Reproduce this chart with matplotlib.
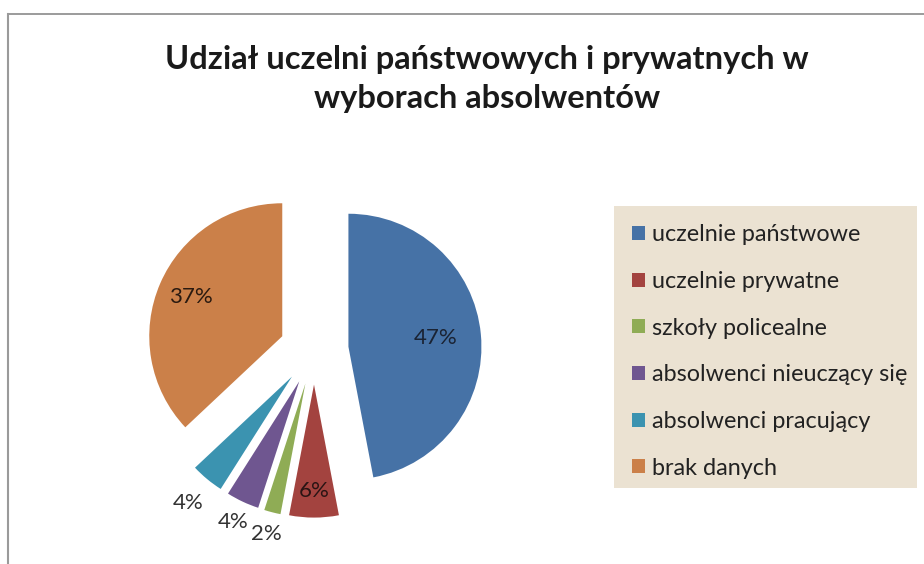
import numpy as np
import matplotlib
matplotlib.use('Agg')
from matplotlib import pyplot as plt
from matplotlib.patches import Rectangle
from matplotlib.lines import Line2D

title = 'Udział uczelni państwowych i prywatnych w\nwyborach absolwentów'
categories = ['uczelnie państwowe', 'uczelnie prywatne', 'szkoły policealne',
              'absolwenci nieuczący się', 'absolwenci pracujący', 'brak danych']
shares = [47, 6, 2, 4, 4, 37]

colors = ['#4672a6', '#a3433f', '#8fac55', '#6f5690', '#3b93b0', '#cb8049']
label_dist = [0.66, 0.80, 1.17, 1.17, 1.23, 0.75]
label_color = ['#1a2333', '#2a1414', '#333333', '#333333', '#333333', '#2a1a10']

plt.rcParams['font.family'] = ['Lato', 'DejaVu Sans']

fig = plt.figure(figsize=(9.24, 5.64), dpi=100)

# frame lines (top and left) like a cropped Excel chart box
fig.add_artist(Line2D([8 / 924, 1], [1 - 14 / 564, 1 - 14 / 564], color='#8a8a8a', lw=1.2))
fig.add_artist(Line2D([8 / 924, 8 / 924], [0, 1 - 14 / 564], color='#9a9a9a', lw=1.5))

fig.text(0.527, 1 - 79 / 564, title, ha='center', va='center', fontsize=23.5,
         fontweight='bold', color='#1a1a1a', linespacing=1.45)

R = 133.0
ax = fig.add_axes([(314 - 1.4 * R) / 924, (564 - 350 - 1.4 * R) / 564,
                   2.8 * R / 924, 2.8 * R / 564])
wedges, _ = ax.pie(shares, colors=colors, startangle=90, counterclock=False,
                   explode=[0.26] * len(shares), radius=1.0,
                   wedgeprops=dict(linewidth=0))
ax.set_xlim(-1.4, 1.4)
ax.set_ylim(-1.4, 1.4)
ax.set_aspect('equal')
ax.axis('off')

for w, v, d, c in zip(wedges, shares, label_dist, label_color):
    th = np.deg2rad((w.theta1 + w.theta2) / 2)
    x = w.center[0] + d * np.cos(th)
    y = w.center[1] + d * np.sin(th)
    ax.text(x, y, f'{v}%', ha='center', va='center', fontsize=16, color=c)

# legend with beige background
lg_ax = fig.add_axes([614 / 924, (564 - 488) / 564, (917 - 614) / 924, (488 - 206) / 564])
lg_ax.set_xlim(0, 1)
lg_ax.set_ylim(0, 1)
lg_ax.axis('off')
lg_ax.add_patch(Rectangle((0, 0), 1, 1, facecolor='#ebe2d2', edgecolor='none',
                          transform=lg_ax.transAxes))
handles = [Rectangle((0, 0), 1, 1, facecolor=c) for c in colors]
leg = lg_ax.legend(handles, categories, loc='upper left', bbox_to_anchor=(-0.01, 1.01),
                   frameon=False, fontsize=16.8, handlelength=0.55, handleheight=0.55,
                   handletextpad=0.3, labelspacing=1.1, labelcolor='#222222')

fig.savefig('out.png', dpi=100)
